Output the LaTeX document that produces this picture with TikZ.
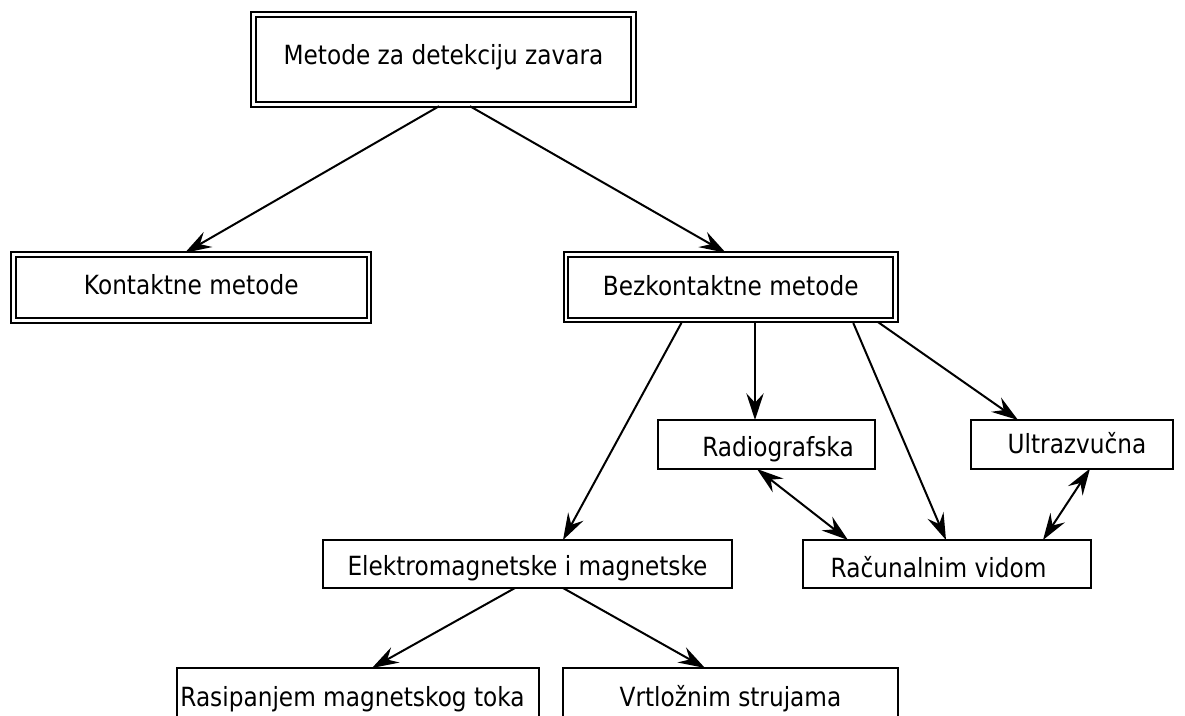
\documentclass[tikz,border=0pt]{standalone}
\usepackage{fontspec}
\newfontfamily\tfont[FakeStretch=0.88]{DejaVu Sans}
\usetikzlibrary{arrows.meta,calc}
\newcommand{\tx}[3]{\raisebox{#2}{\makebox[0pt]{\hspace*{#1}#3}}}
\begin{document}
\begin{tikzpicture}[x=0.75pt,y=-0.75pt,
  every node/.style={font=\tfont\fontsize{19.8pt}{23pt}\selectfont, inner sep=0pt, outer sep=0pt, text height=14.4pt, text depth=0pt},
  sbox/.style 2 args={draw, line width=1.5pt, minimum width=#1*0.75pt, minimum height=#2*0.75pt},
  dbox/.style 2 args={draw, double, line width=1.5pt, double distance=2.1pt, minimum width=#1*0.75pt, minimum height=#2*0.75pt},
  tip/.tip={Stealth[length=20pt,width=13pt,inset=7pt]},
  arr/.style={line width=1.5pt, -tip},
  barr/.style={line width=1.5pt, tip-tip}
]
\useasboundingbox (0,0) rectangle (1185,716);
\clip (0,0) rectangle (1185,716);
\node[dbox={380}{90}] (top) at (443.5,59.5) {\tx{0pt}{3.4pt}{Metode za detekciju zavara}};
\node[dbox={355.5}{66}] (kon) at (191.25,287.5) {\tx{0pt}{1.9pt}{Kontaktne metode}};
\node[dbox={329.5}{65.5}] (bez) at (730.75,287.25) {\tx{0pt}{0.75pt}{Bezkontaktne metode}};
\node[sbox={217}{49}] (rad) at (766.5,444.5) {\tx{17.25pt}{-1.5pt}{Radiografska}};
\node[sbox={202}{48.5}] (ult) at (1072,444.25) {\tx{7.5pt}{0pt}{Ultrazvučna}};
\node[sbox={288}{48}] (rac) at (947,564) {\tx{-12.75pt}{-2.6pt}{Računalnim vidom}};
\node[sbox={409}{48}] (ele) at (527.5,564) {\tx{0pt}{-1.5pt}{Elektromagnetske i magnetske}};
\node[sbox={362}{54}] (ras) at (358,695) {\tx{-8.25pt}{-1.1pt}{Rasipanjem magnetskog toka}};
\node[sbox={335}{54}] (vrt) at (730.5,695) {\tx{0pt}{-1.1pt}{Vrtložnim strujama}};
\draw[arr, shorten <=2.5pt, shorten >=2.5pt] ($(top.south)+(-1.5,0)$) -- ($(kon.north)+(-9.25,0)$);
\draw[arr, shorten <=2.5pt, shorten >=2.5pt] ($(top.south)+(23.5,0)$) -- ($(bez.north)+(-2,0)$);
\draw[arr, shorten <=2.5pt] ($(bez.south)+(-47.75,0)$) -- ($(ele.north)+(35.5,0)$);
\draw[arr, shorten <=2.5pt] ($(bez.south)+(24.25,0)$) -- ($(rad.north)+(-11.5,0)$);
\draw[arr, shorten <=2.5pt] ($(bez.south)+(121.25,0)$) -- ($(rac.north)+(-1,0)$);
\draw[arr, shorten <=2.5pt] ($(bez.south)+(144.25,0)$) -- ($(ult.north)+(-54,0)$);
\draw[barr] ($(rad.south)+(-9.5,0)$) -- ($(rac.north)+(-99,0)$);
\draw[barr] ($(ult.south)+(18,0)$) -- ($(rac.north)+(96,0)$);
\draw[arr] ($(ele.south)+(-12.5,0)$) -- ($(ras.north)+(14,0)$);
\draw[arr] ($(ele.south)+(35.5,0)$) -- ($(vrt.north)+(-25.5,0)$);
\end{tikzpicture}
\end{document}
